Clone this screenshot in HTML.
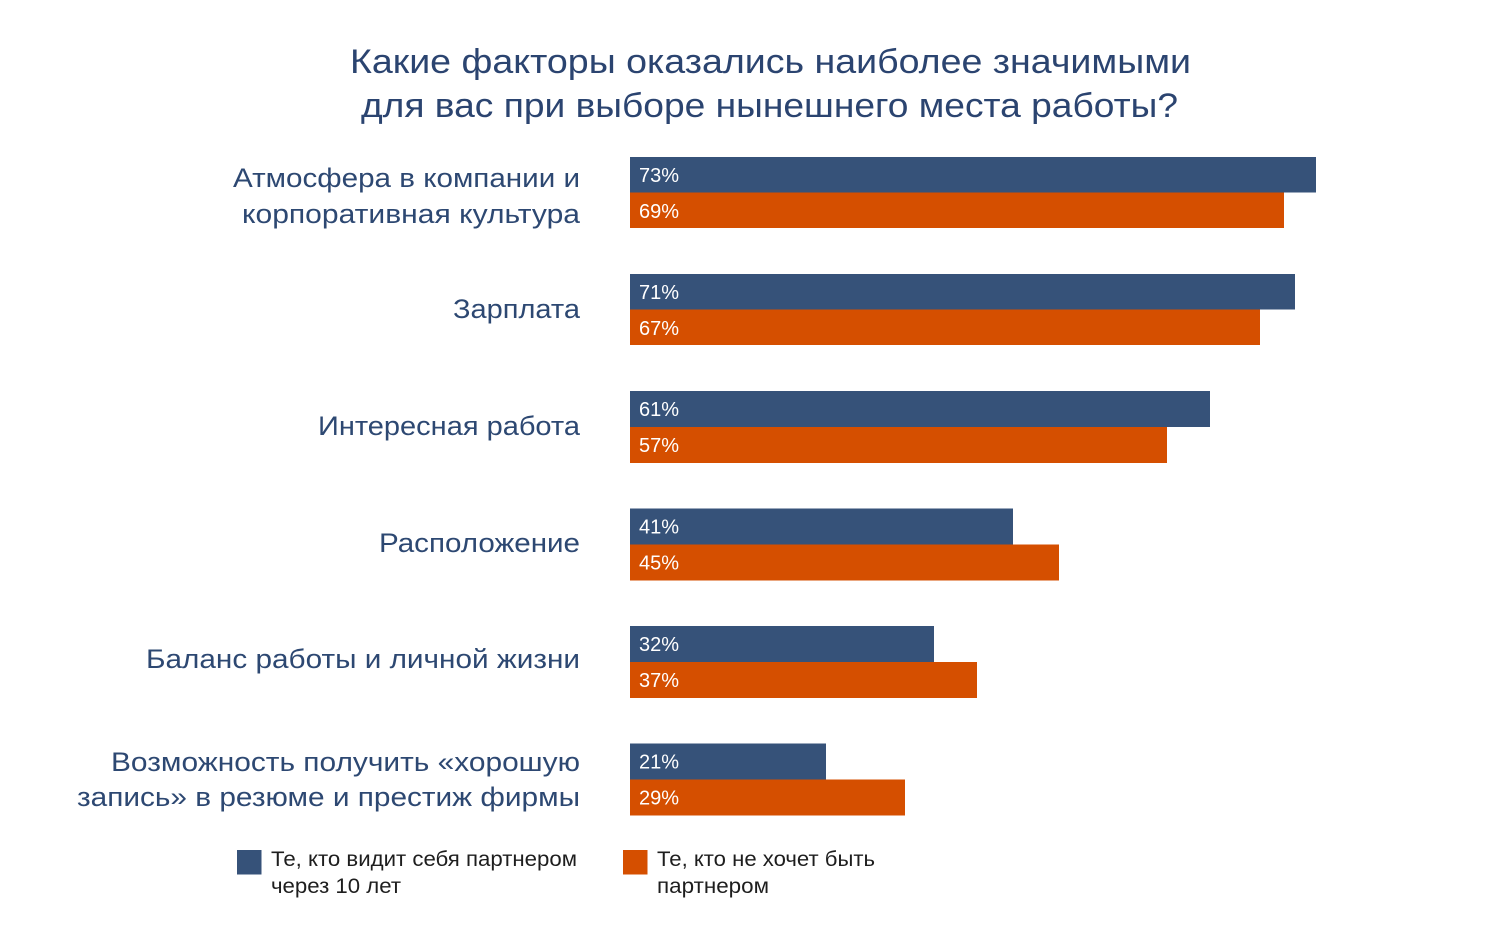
<!DOCTYPE html>
<html>
<head>
<meta charset="utf-8">
<style>
  html, body { margin: 0; padding: 0; background: #ffffff; }
  svg { display: block; }
  text { font-family: "Liberation Sans", "DejaVu Sans", sans-serif; }
  .title { fill: #2b4470; font-size: 34px; }
  .lbl { fill: #2d4872; font-size: 27px; }
  .val { fill: #ffffff; font-size: 20px; }
  .leg { fill: #1e1e1e; font-size: 21px; }
</style>
</head>
<body>
<svg width="1500" height="949" viewBox="0 0 1500 949" xmlns="http://www.w3.org/2000/svg">
  <rect x="0" y="0" width="1500" height="949" fill="#ffffff"/>

  <!-- Title -->
  <text class="title" x="350" y="73" textLength="841" lengthAdjust="spacingAndGlyphs">Какие факторы оказались наиболее значимыми</text>
  <text class="title" x="361" y="117" textLength="817" lengthAdjust="spacingAndGlyphs">для вас при выборе нынешнего места работы?</text>

  <!-- Category labels -->
  <text class="lbl" x="233" y="187" textLength="347" lengthAdjust="spacingAndGlyphs">Атмосфера в компании и</text>
  <text class="lbl" x="242" y="223" textLength="338" lengthAdjust="spacingAndGlyphs">корпоративная культура</text>
  <text class="lbl" x="453" y="318" textLength="127" lengthAdjust="spacingAndGlyphs">Зарплата</text>
  <text class="lbl" x="318" y="435" textLength="262" lengthAdjust="spacingAndGlyphs">Интересная работа</text>
  <text class="lbl" x="379" y="552" textLength="201" lengthAdjust="spacingAndGlyphs">Расположение</text>
  <text class="lbl" x="146" y="668" textLength="434" lengthAdjust="spacingAndGlyphs">Баланс работы и личной жизни</text>
  <text class="lbl" x="111" y="771" textLength="469" lengthAdjust="spacingAndGlyphs">Возможность получить «хорошую</text>
  <text class="lbl" x="77" y="806" textLength="503" lengthAdjust="spacingAndGlyphs">запись» в резюме и престиж фирмы</text>

  <!-- Bars -->
  <g>
    <rect x="630" y="157" width="686" height="35.5" fill="#365279"/>
    <rect x="630" y="192.5" width="654" height="35.5" fill="#d54f00"/>
    <text class="val" x="639" y="182">73%</text>
    <text class="val" x="639" y="218">69%</text>

    <rect x="630" y="274" width="665" height="35.5" fill="#365279"/>
    <rect x="630" y="309.5" width="630" height="35.5" fill="#d54f00"/>
    <text class="val" x="639" y="299">71%</text>
    <text class="val" x="639" y="335">67%</text>

    <rect x="630" y="391" width="580" height="36" fill="#365279"/>
    <rect x="630" y="427" width="537" height="36" fill="#d54f00"/>
    <text class="val" x="639" y="416">61%</text>
    <text class="val" x="639" y="452">57%</text>

    <rect x="630" y="508.5" width="383" height="36" fill="#365279"/>
    <rect x="630" y="544.5" width="429" height="36" fill="#d54f00"/>
    <text class="val" x="639" y="533.5">41%</text>
    <text class="val" x="639" y="569.5">45%</text>

    <rect x="630" y="626" width="304" height="36" fill="#365279"/>
    <rect x="630" y="662" width="347" height="36" fill="#d54f00"/>
    <text class="val" x="639" y="651">32%</text>
    <text class="val" x="639" y="687">37%</text>

    <rect x="630" y="743.5" width="196" height="36" fill="#365279"/>
    <rect x="630" y="779.5" width="275" height="36" fill="#d54f00"/>
    <text class="val" x="639" y="768.5">21%</text>
    <text class="val" x="639" y="804.5">29%</text>
  </g>

  <!-- Legend -->
  <rect x="237" y="850" width="24.5" height="24.5" fill="#365279"/>
  <text class="leg" x="271" y="866" textLength="306" lengthAdjust="spacingAndGlyphs">Те, кто видит себя партнером</text>
  <text class="leg" x="271" y="893" textLength="130" lengthAdjust="spacingAndGlyphs">через 10 лет</text>

  <rect x="623" y="850" width="24.5" height="24.5" fill="#d54f00"/>
  <text class="leg" x="657" y="866" textLength="218" lengthAdjust="spacingAndGlyphs">Те, кто не хочет быть</text>
  <text class="leg" x="657" y="893" textLength="112" lengthAdjust="spacingAndGlyphs">партнером</text>
</svg>
</body>
</html>
